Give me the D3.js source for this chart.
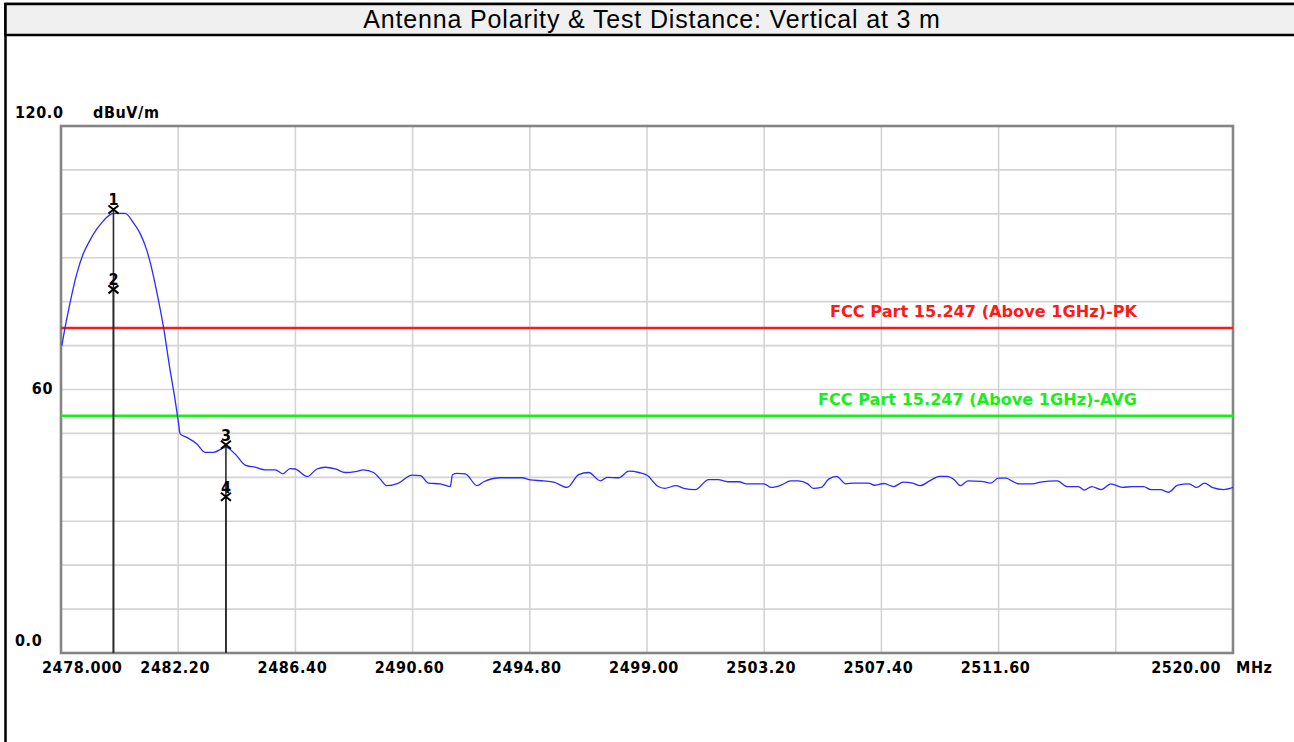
<!DOCTYPE html>
<html>
<head>
<meta charset="utf-8">
<script src="https://cdn.jsdelivr.net/npm/d3@7"></script>
<style>
  body { margin: 0; background: #fff; }
  .lbl { font-family: "DejaVu Sans Condensed", "Liberation Sans", Arial, sans-serif; font-weight: bold; font-size: 16px; letter-spacing: 0.6px; }
</style>
</head>
<body>
<div id="chart"></div>
<script>
// trace readings (MHz, dBuV/m)
var freqMHz = [2478.03, 2478.14, 2478.32, 2478.56, 2478.79, 2479.04, 2479.28, 2479.52, 2479.64, 2479.88,
  2480.30, 2480.59, 2480.83, 2481.07, 2481.19, 2481.43, 2481.67, 2481.91, 2482.09, 2482.21,
  2482.27, 2482.51, 2482.87, 2483.16,
  2483.46, 2483.91, 2484.24, 2484.60, 2484.96, 2485.32, 2485.68, 2485.95, 2486.21, 2486.39,
  2486.83, 2487.17, 2487.47, 2487.83, 2488.19, 2488.55, 2488.84, 2489.20, 2489.44, 2489.68,
  2490.10, 2490.58, 2490.88, 2491.17, 2491.59, 2491.95, 2492.03, 2492.19, 2492.49, 2492.91,
  2493.15, 2493.75, 2494.52, 2494.82, 2495.30, 2495.66, 2496.14, 2496.55, 2496.91, 2497.33,
  2497.57, 2497.99, 2498.35, 2498.71, 2499.02, 2499.36, 2499.63, 2500.04, 2500.32, 2500.73,
  2501.21, 2501.55, 2501.89, 2502.30, 2502.57, 2503.19, 2503.46, 2503.80, 2504.15, 2504.42,
  2504.76, 2504.96, 2505.24, 2505.51, 2505.79, 2506.13, 2506.40, 2506.94, 2507.15, 2507.49,
  2507.84, 2508.18, 2508.52, 2508.79, 2509.13, 2509.48, 2509.75, 2510.02, 2510.23, 2510.50,
  2510.98, 2511.32, 2511.59, 2511.87, 2512.07, 2512.35, 2512.82, 2513.10, 2513.71, 2514.05,
  2514.46, 2514.67, 2514.94, 2515.28, 2515.62, 2516.04, 2516.38, 2516.79, 2517.06, 2517.40,
  2517.68, 2518.02, 2518.43, 2518.70, 2518.98, 2519.25, 2519.66, 2520.00];
var levelDb = [70.0, 73.9, 79.6, 86.2, 90.8, 94.0, 96.5, 98.4, 99.2, 100.1,
  100.1, 98.0, 95.6, 91.8, 89.1, 82.3, 74.3, 64.4, 57.6, 52.4,
  49.9, 49.1, 47.6, 45.7,
  45.7, 46.8, 45.3, 42.8, 42.3, 41.7, 41.7, 40.8, 42.0, 41.9,
  40.2, 41.9, 42.3, 41.9, 41.1, 41.3, 41.7, 41.1, 39.6, 38.1,
  38.7, 40.5, 40.4, 38.7, 38.5, 37.9, 40.6, 40.9, 40.8, 38.1,
  39.0, 39.9, 39.9, 39.4, 39.2, 38.9, 37.7, 40.6, 41.1, 39.2,
  40.0, 39.9, 41.4, 41.1, 40.4, 38.1, 37.5, 38.1, 37.5, 37.2,
  39.5, 39.5, 39.0, 39.0, 38.5, 38.5, 37.7, 38.2, 39.2, 39.2,
  38.5, 37.5, 37.7, 39.6, 40.2, 38.5, 38.7, 38.7, 38.2, 38.6,
  37.9, 38.9, 38.7, 38.1, 39.2, 40.2, 40.2, 39.4, 38.1, 39.2,
  39.1, 38.7, 39.8, 39.8, 39.2, 38.5, 38.5, 38.9, 39.2, 37.9,
  37.9, 37.1, 37.9, 37.2, 38.5, 37.7, 37.9, 37.9, 37.2, 37.2,
  36.6, 38.2, 38.5, 37.7, 38.7, 37.7, 37.2, 37.7];

var limitNames = ["FCC Part 15.247 (Above 1GHz)-PK", "FCC Part 15.247 (Above 1GHz)-AVG"];
var limitValues = [74, 54];
var limitColors = ["#ff1a1a", "#1aee1a"];

var markerIds = ["1", "2", "3", "4"];
var markerFreq = [2479.88, 2479.88, 2483.91, 2483.91];
var markerLevel = [101.0, 82.8, 47.4, 35.6];

var xTicks = [2478.0, 2482.2, 2486.4, 2490.6, 2494.8, 2499.0, 2503.2, 2507.4, 2511.6, 2515.8, 2520.0];
var xTickLabels = ["2478.000", "2482.20", "2486.40", "2490.60", "2494.80", "2499.00", "2503.20", "2507.40", "2511.60", "", "2520.00"];
var yTicks = [0, 10, 20, 30, 40, 50, 60, 70, 80, 90, 100, 110, 120];
var yTickLabels = {0: "0.0", 60: "60", 120: "120.0"};

var titleText = "Antenna Polarity & Test Distance: Vertical at 3 m";

SpectrumVis = function(_parentElement) {
  this.parentElement = _parentElement;
  this.data = freqMHz.map(function(f, i) { return {freq: f, level: levelDb[i]}; });
  this.markers = markerIds.map(function(id, i) { return {id: id, freq: markerFreq[i], level: markerLevel[i]}; });
  this.initVis();
};

SpectrumVis.prototype.initVis = function() {
  var vis = this;
  vis.W = 1294;
  vis.H = 742;
  vis.plot = {left: 61, top: 126, right: 1233, bottom: 653};

  vis.svg = d3.select("#" + vis.parentElement).append("svg")
    .attr("width", vis.W)
    .attr("height", vis.H);

  vis.xScale = d3.scaleLinear()
    .domain([2478, 2520])
    .range([vis.plot.left, vis.plot.right]);
  vis.yScale = d3.scaleLinear()
    .domain([0, 120])
    .range([vis.plot.bottom, vis.plot.top]);

  // outer frame + title bar
  vis.svg.append("rect")
    .attr("x", 5.5).attr("y", 4)
    .attr("width", 1400).attr("height", 900)
    .attr("fill", "#fff").attr("stroke", "#000").attr("stroke-width", 2.5);
  vis.svg.append("rect")
    .attr("x", 5.5).attr("y", 4)
    .attr("width", 1400).attr("height", 31)
    .attr("fill", "#f0f0f0").attr("stroke", "#000").attr("stroke-width", 2.5);
  vis.svg.append("text")
    .attr("x", 652).attr("y", 28)
    .attr("text-anchor", "middle")
    .style("font-family", "Arial, 'Liberation Sans', sans-serif")
    .style("font-size", "25px")
    .style("letter-spacing", "0.85px")
    .text(titleText);

  vis.drawGrid();
  vis.drawLabels();
  vis.drawLimits();
  vis.drawTrace();
  vis.drawMarkers();
};

SpectrumVis.prototype.drawGrid = function() {
  var vis = this;
  var g = vis.svg.append("g").attr("class", "grid");

  g.selectAll(".hgrid")
    .data(yTicks.filter(function(d) { return d > 0 && d < 120; }))
    .enter().append("line")
    .attr("class", "hgrid")
    .attr("x1", vis.plot.left).attr("x2", vis.plot.right)
    .attr("y1", function(d) { return vis.yScale(d); })
    .attr("y2", function(d) { return vis.yScale(d); })
    .attr("stroke", "#d4d4d4").attr("stroke-width", 1.6);

  g.selectAll(".vgrid")
    .data(xTicks.slice(1, -1))
    .enter().append("line")
    .attr("class", "vgrid")
    .attr("y1", vis.plot.top).attr("y2", vis.plot.bottom)
    .attr("x1", function(d) { return vis.xScale(d); })
    .attr("x2", function(d) { return vis.xScale(d); })
    .attr("stroke", "#d4d4d4").attr("stroke-width", 1.6);

  g.append("rect")
    .attr("x", vis.plot.left).attr("y", vis.plot.top)
    .attr("width", vis.plot.right - vis.plot.left)
    .attr("height", vis.plot.bottom - vis.plot.top)
    .attr("fill", "none").attr("stroke", "#858585").attr("stroke-width", 2.6);
};

SpectrumVis.prototype.drawLabels = function() {
  var vis = this;

  vis.svg.selectAll(".ylab")
    .data(yTicks.filter(function(d) { return yTickLabels[d] !== undefined; }))
    .enter().append("text")
    .attr("class", "ylab lbl")
    .attr("x", function(d) { return d === 60 ? 53 : 15; })
    .attr("y", function(d) { return vis.yScale(d) + (d === 120 ? -8 : (d === 0 ? -7 : 4)); })
    .attr("text-anchor", function(d) { return d === 60 ? "end" : "start"; })
    .text(function(d) { return yTickLabels[d]; });

  vis.svg.append("text")
    .attr("class", "lbl")
    .attr("x", 93).attr("y", vis.yScale(120) - 8)
    .text("dBuV/m");

  var n = xTicks.length;
  vis.svg.selectAll(".xlab")
    .data(xTicks)
    .enter().append("text")
    .attr("class", "xlab lbl")
    .attr("x", function(d, i) {
      if (i === 0) return vis.xScale(d) - 19;
      if (i === n - 1) return vis.xScale(d) - 12;
      return vis.xScale(d) - 3;
    })
    .attr("y", vis.plot.bottom + 20)
    .attr("text-anchor", function(d, i) {
      if (i === 0) return "start";
      if (i === n - 1) return "end";
      return "middle";
    })
    .text(function(d, i) { return xTickLabels[i]; });

  vis.svg.append("text")
    .attr("class", "lbl")
    .attr("x", vis.plot.right + 3).attr("y", vis.plot.bottom + 20)
    .text("MHz");
};

SpectrumVis.prototype.drawLimits = function() {
  var vis = this;
  var labelLeft = [830, 818];
  limitValues.forEach(function(v, i) {
    vis.svg.append("line")
      .attr("x1", vis.plot.left).attr("x2", vis.plot.right)
      .attr("y1", vis.yScale(v)).attr("y2", vis.yScale(v))
      .attr("stroke", limitColors[i]).attr("stroke-width", 2.5);
    vis.svg.append("text")
      .attr("class", "lbl")
      .attr("x", labelLeft[i]).attr("y", vis.yScale(v) - 11)
      .attr("fill", limitColors[i])
      .attr("textLength", 1137 - labelLeft[i])
      .attr("lengthAdjust", "spacingAndGlyphs")
      .style("font-size", "15px")
      .style("letter-spacing", "0px")
      .text(limitNames[i]);
  });
};

SpectrumVis.prototype.drawTrace = function() {
  var vis = this;
  vis.svg.append("path")
    .datum(vis.data)
    .attr("fill", "none")
    .attr("stroke", "#2a2aff")
    .attr("stroke-width", 1.3)
    .attr("d", d3.line()
      .curve(d3.curveMonotoneX)
      .x(function(d) { return vis.xScale(d.freq); })
      .y(function(d) { return vis.yScale(d.level); })
    );
};

SpectrumVis.prototype.drawMarkers = function() {
  var vis = this;
  var g = vis.svg.append("g").attr("class", "markers");

  g.selectAll(".mline")
    .data(vis.markers)
    .enter().append("line")
    .attr("class", "mline")
    .attr("x1", function(d) { return vis.xScale(d.freq); })
    .attr("x2", function(d) { return vis.xScale(d.freq); })
    .attr("y1", vis.plot.bottom)
    .attr("y2", function(d) { return vis.yScale(d.level); })
    .attr("stroke", "#2a2a2a").attr("stroke-width", 1.6);

  var mk = g.selectAll(".mk")
    .data(vis.markers)
    .enter().append("g")
    .attr("class", "mk")
    .attr("transform", function(d) {
      return "translate(" + vis.xScale(d.freq) + "," + vis.yScale(d.level) + ")";
    });
  mk.append("path")
    .attr("d", "M-5,-4L5,4M-5,4L5,-4")
    .attr("stroke", "#000").attr("stroke-width", 2);
  mk.append("text")
    .attr("x", 0).attr("y", -4)
    .attr("text-anchor", "middle")
    .style("font-family", "'DejaVu Sans Condensed', Arial, sans-serif")
    .style("font-weight", "bold")
    .style("font-size", "16px")
    .text(function(d) { return d.id; });
};

new SpectrumVis("chart");
</script>
</body>
</html>
